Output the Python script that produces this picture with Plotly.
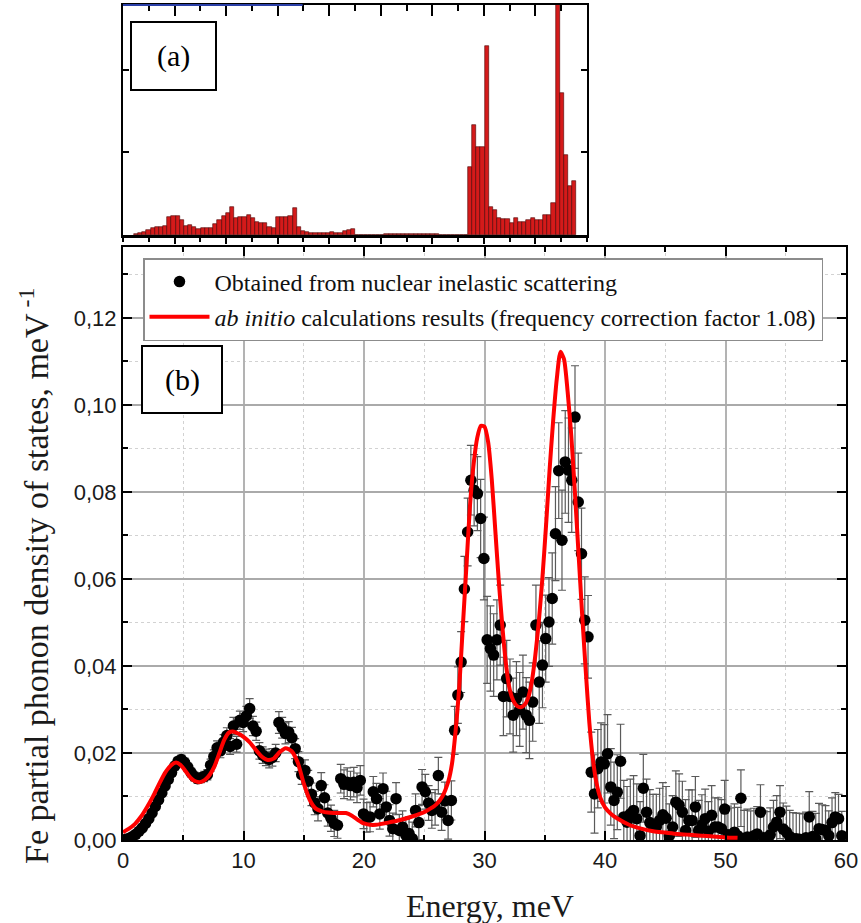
import plotly.graph_objects as go

# ---------------- data ----------------
# main panel (b): nuclear inelastic scattering points (meV, meV^-1)
nis_energy = [round(0.25 + 0.27 * k, 2) for k in range(221)]
nis_dos = [
    0.0002, 0.0004, 0.0008, 0.0013, 0.0020, 0.0028, 0.0038, 0.0049, 0.0062, 0.0077,
    0.0092, 0.0108, 0.0124, 0.0139, 0.0155, 0.0170, 0.0181, 0.0185, 0.0178, 0.0167,
    0.0155, 0.0146, 0.0141, 0.0143, 0.0146, 0.0150, 0.0172, 0.0192, 0.0212, 0.0205,
    0.0225, 0.0240, 0.0215, 0.0262, 0.0220, 0.0275, 0.0270, 0.0285, 0.0302, 0.0262,
    0.0250, 0.0205, 0.0195, 0.0190, 0.0185, 0.0190, 0.0200, 0.0270, 0.0258, 0.0245,
    0.0248, 0.0235, 0.0210, 0.0180, 0.0150, 0.0160, 0.0135, 0.0105, 0.0085, 0.0072,
    0.0125, 0.0097, 0.0062, 0.0050, 0.0038, 0.0034, 0.0141, 0.0128, 0.0133, 0.0125,
    0.0133, 0.0120, 0.0137, 0.0060, 0.0052, 0.0053, 0.0111, 0.0095, 0.0060, 0.0118,
    0.0076, 0.0045, 0.0026, 0.0095, 0.0022, 0.0030, 0.0011, 0.0015, 0.0003, 0.0068,
    0.0040, 0.0122, 0.0111, 0.0085, 0.0068, 0.0075, 0.0148, 0.0064, 0.0090, 0.0045,
    0.0091, 0.0252, 0.0333, 0.0409, 0.0577, 0.0708, 0.0827, 0.0804, 0.0796, 0.0739,
    0.0647, 0.0460, 0.0440, 0.0425, 0.0460, 0.0494, 0.0330, 0.0371, 0.0330, 0.0287,
    0.0325, 0.0300, 0.0340, 0.0287, 0.0275, 0.0317, 0.0494, 0.0363, 0.0402, 0.0463,
    0.0501, 0.0555, 0.0704, 0.0849, 0.0689, 0.0869, 0.0850, 0.0827, 0.0972, 0.0777,
    0.0658, 0.0505, 0.0467, 0.0156, 0.0106, 0.0164, 0.0179, 0.0175, 0.0198, 0.0122,
    0.0091, 0.0110, 0.0181, 0.0053, 0.0041, 0.0060, 0.0068, 0.0049, 0.0010, 0.0119,
    0.0064, 0.0040, 0.0030, 0.0030, 0.0045, 0.0058, 0.0050, 0.0010, 0.0030, 0.0087,
    0.0080, 0.0064, 0.0022, 0.0045, 0.0045, 0.0076, 0.0022, 0.0035, 0.0049, 0.0020,
    0.0057, 0.0030, 0.0030, 0.0026, 0.0071, 0.0012, 0.0008, 0.0018, 0.0010, 0.0096,
    0.0004, 0.0007, 0.0003, 0.0010, 0.0014, 0.0064, 0.0005, 0.0003, 0.0012, 0.0030,
    0.0041, 0.0064, 0.0025, 0.0018, 0.0008, 0.0003, 0.0003, 0.0002, 0.0001, 0.0005,
    0.0053, 0.0008, 0.0003, 0.0026, 0.0024, 0.0022, 0.0010, 0.0040, 0.0053, 0.0049, 0.0010,
]
nis_err = [
    0.0004, 0.0004, 0.0004, 0.0005, 0.0005, 0.0005, 0.0006, 0.0006, 0.0006, 0.0007,
    0.0007, 0.0007, 0.0008, 0.0008, 0.0008, 0.0009, 0.0009, 0.0010, 0.0010, 0.0010,
    0.0010, 0.0010, 0.0011, 0.0011, 0.0012, 0.0012, 0.0014, 0.0015, 0.0016, 0.0016,
    0.0017, 0.0018, 0.0018, 0.0020, 0.0018, 0.0021, 0.0021, 0.0022, 0.0023, 0.0022,
    0.0021, 0.0019, 0.0019, 0.0019, 0.0019, 0.0020, 0.0020, 0.0025, 0.0024, 0.0024,
    0.0024, 0.0024, 0.0023, 0.0023, 0.0022, 0.0024, 0.0025, 0.0026, 0.0027, 0.0028,
    0.0030, 0.0030, 0.0030, 0.0030, 0.0030, 0.0030, 0.0033, 0.0033, 0.0033, 0.0033,
    0.0034, 0.0034, 0.0034, 0.0034, 0.0034, 0.0034, 0.0035, 0.0035, 0.0035, 0.0036,
    0.0036, 0.0036, 0.0036, 0.0037, 0.0037, 0.0037, 0.0037, 0.0038, 0.0038, 0.0038,
    0.0039, 0.0040, 0.0040, 0.0040, 0.0041, 0.0041, 0.0042, 0.0042, 0.0043, 0.0043,
    0.0045, 0.0055, 0.0065, 0.0070, 0.0075, 0.0078, 0.0080, 0.0082, 0.0085, 0.0090,
    0.0095, 0.0100, 0.0098, 0.0095, 0.0092, 0.0092, 0.0090, 0.0088, 0.0086, 0.0085,
    0.0085, 0.0085, 0.0085, 0.0086, 0.0088, 0.0090, 0.0092, 0.0095, 0.0098, 0.0100,
    0.0102, 0.0105, 0.0108, 0.0110, 0.0115, 0.0118, 0.0120, 0.0120, 0.0118, 0.0112,
    0.0105, 0.0100, 0.0095, 0.0092, 0.0090, 0.0090, 0.0090, 0.0090, 0.0090, 0.0088,
    0.0088, 0.0086, 0.0085, 0.0084, 0.0082, 0.0080, 0.0080, 0.0080, 0.0078, 0.0078,
    0.0076, 0.0076, 0.0075, 0.0075, 0.0074, 0.0074, 0.0073, 0.0073, 0.0072, 0.0072,
    0.0072, 0.0071, 0.0071, 0.0070, 0.0070, 0.0070, 0.0069, 0.0069, 0.0068, 0.0068,
    0.0068, 0.0067, 0.0067, 0.0067, 0.0066, 0.0066, 0.0066, 0.0065, 0.0065, 0.0065,
    0.0064, 0.0064, 0.0064, 0.0063, 0.0063, 0.0063, 0.0062, 0.0062, 0.0062, 0.0061,
    0.0061, 0.0061, 0.0060, 0.0060, 0.0060, 0.0060, 0.0059, 0.0059, 0.0059, 0.0059,
    0.0058, 0.0058, 0.0058, 0.0058, 0.0057, 0.0057, 0.0057, 0.0057, 0.0056, 0.0056, 0.0056,
]

# ab initio curve (frequency correction factor 1.08)
calc_energy = [
    0, 0.5, 1, 1.5, 2, 2.5, 3, 3.5, 4, 4.4, 4.8, 5.2, 5.6, 6.0, 6.4, 6.8, 7.2, 7.6,
    8.0, 8.4, 8.8, 9.2, 9.6, 10.0, 10.5, 11.0, 11.5, 12.0, 12.5, 13.0, 13.5, 14.0,
    14.5, 15.0, 15.5, 16.0, 16.5, 17.0, 17.5, 18.0, 18.5, 19.0, 19.5, 20.0, 20.5,
    21.0, 22.0, 23.0, 24.0, 25.0, 25.5, 26.0, 26.5, 27.0, 27.3, 27.6, 27.9, 28.2,
    28.5, 28.8, 29.1, 29.4, 29.7, 30.0, 30.3, 30.6, 30.9, 31.2, 31.5, 31.8, 32.1,
    32.4, 32.7, 33.0, 33.3, 33.6, 33.9, 34.2, 34.5, 34.8, 35.1, 35.4, 35.7, 36.0,
    36.3, 36.6, 36.9, 37.2, 37.5, 37.8, 38.1, 38.4, 38.7, 39.0, 39.3, 39.6, 40.0,
    40.5, 41.0, 42.0, 43.0, 44.0, 45.0, 46.0, 47.0, 48.0, 49.0, 50.0, 51.0,
]
calc_dos = [
    0.0018, 0.0026, 0.0037, 0.0054, 0.0076, 0.0101, 0.0129, 0.0155, 0.0172, 0.0178,
    0.0172, 0.0158, 0.0143, 0.0135, 0.0133, 0.0138, 0.0150, 0.0170,
    0.0200, 0.0230, 0.0247, 0.0249, 0.0244, 0.0237, 0.0225, 0.0208, 0.0192, 0.0184,
    0.0187, 0.0202, 0.0211, 0.0204,
    0.0178, 0.0130, 0.0092, 0.0072, 0.0066, 0.0063, 0.0062, 0.0062, 0.0062, 0.0056,
    0.0046, 0.0038, 0.0035,
    0.0035, 0.0040, 0.0046, 0.0054, 0.0064, 0.0072, 0.0082, 0.0100, 0.0135, 0.0175,
    0.0250, 0.0350, 0.0490,
    0.0630, 0.0770, 0.0865, 0.0925, 0.0952, 0.0950, 0.0915, 0.0830, 0.0710, 0.0590,
    0.0485, 0.0400, 0.0345,
    0.0320, 0.0308, 0.0305, 0.0310, 0.0325, 0.0360, 0.0420, 0.0500, 0.0600, 0.0720,
    0.0850, 0.0965, 0.1060,
    0.1122, 0.1105, 0.1030, 0.0930, 0.0800, 0.0660, 0.0520, 0.0390, 0.0270, 0.0185,
    0.0130, 0.0098, 0.0075,
    0.0060, 0.0050, 0.0035, 0.0026, 0.0020, 0.0017, 0.0014, 0.0012, 0.0010, 0.0008,
    0.0006, 0.0005,
]

# inset (a): histogram of the calculated density of states (bins in THz, arbitrary units)
bin_width = 0.081
bin_centers = [round(0.21 + bin_width * (i + 0.5), 4) for i in range(106)]
bin_heights = [
    0.008, 0.02, 0.04, 0.06, 0.08, 0.093, 0.093, 0.109,
    0.214, 0.23, 0.23, 0.181, 0.109, 0.117, 0.093, 0.069,
    0.089, 0.089, 0.08, 0.133, 0.181, 0.23, 0.27, 0.343,
    0.202, 0.214, 0.214, 0.242, 0.202, 0.161, 0.149, 0.149,
    0.101, 0.08, 0.222, 0.222, 0.222, 0.23, 0.323, 0.101,
    0.052, 0.032, 0.028, 0.028, 0.028, 0.028, 0.028, 0.032,
    0.028, 0.028, 0.048, 0.06, 0.077, 0, 0, 0,
    0, 0, 0, 0, 0.012, 0.008, 0.008, 0.012,
    0.008, 0.016, 0.008, 0.012, 0.008, 0.012, 0.012, 0.012,
    0.012, 0, 0, 0, 0, 0, 0, 0,
    0.827, 1.331, 1.069, 1.069, 2.29, 0.343, 0.302, 0.21,
    0.19, 0.19, 0.141, 0.21, 0.161, 0.161, 0.181, 0.202,
    0.181, 0.181, 0.242, 0.242, 0.383, 3.2, 1.72, 0.968,
    0.597, 0.657,
]

x_ticks = [0, 10, 20, 30, 40, 50, 60]
y_ticks = [0.00, 0.02, 0.04, 0.06, 0.08, 0.10, 0.12]
y_ticktext = ["0,00", "0,02", "0,04", "0,06", "0,08", "0,10", "0,12"]

# ---------------- layout helpers ----------------
W, H = 861, 923
ML, MR, MT, MB = 123, 15, 4, 83
PW = W - ML - MR
PH = H - MT - MB


def px(x):
    return (x - ML) / PW


def py(y):
    return (H - MB - y) / PH


SERIF = "Liberation Serif"
SANS = "Liberation Sans"

fig = go.Figure()

fig.add_trace(go.Bar(
    x=bin_centers, y=bin_heights, width=bin_width,
    marker=dict(color="#d41a1a", line=dict(color="#4a0000", width=0.6)),
    xaxis="x2", yaxis="y2", showlegend=False, hoverinfo="skip",
))
fig.add_trace(go.Scatter(x=[], y=[], xaxis="x3", yaxis="y2", showlegend=False))

fig.add_trace(go.Scatter(
    x=nis_energy, y=nis_dos, mode="markers",
    name="Obtained from nuclear inelastic scattering",
    marker=dict(color="black", size=11.5),
    error_y=dict(type="data", array=nis_err, visible=True, color="#5a5a5a",
                 thickness=1.2, width=4),
    legendgroup="a",
))
fig.add_trace(go.Scatter(
    x=calc_energy, y=calc_dos, mode="lines",
    name="<i>ab initio</i> calculations results (frequency correction factor 1.08)",
    line=dict(color="#ff0000", width=4, shape="spline", smoothing=0.6),
    legendgroup="b",
))

axis_common = dict(showline=True, linecolor="black", linewidth=2, zeroline=False)

fig.update_layout(
    width=W, height=H,
    margin=dict(l=ML, r=MR, t=MT, b=MB),
    paper_bgcolor="white", plot_bgcolor="white",
    bargap=0,
    xaxis=dict(
        domain=[0, 1], range=[0, 60], tickvals=x_ticks,
        ticks="inside", ticklen=9, tickwidth=2, tickcolor="black",
        mirror="ticks", showgrid=True, gridcolor="#b3b3b3", gridwidth=1.5,
        minor=dict(tickvals=[5, 15, 25, 35, 45, 55], ticks="inside", ticklen=5,
                   tickwidth=1.5, tickcolor="black", showgrid=True,
                   gridcolor="#d2d2d2", griddash="dot", gridwidth=1),
        tickfont=dict(family=SANS, size=22, color="#1a1a1a"),
        anchor="y", **axis_common,
    ),
    yaxis=dict(
        domain=[0, py(247)], range=[0, 0.1363], tickvals=y_ticks, ticktext=y_ticktext,
        ticks="inside", ticklen=9, tickwidth=2, tickcolor="black",
        mirror="ticks", showgrid=True, gridcolor="#aaaaaa", gridwidth=2,
        minor=dict(tickvals=[0.01, 0.03, 0.05, 0.07, 0.09, 0.11, 0.13], ticks="inside",
                   ticklen=5, tickwidth=1.5, tickcolor="black", showgrid=True,
                   gridcolor="#d2d2d2", griddash="dot", gridwidth=1),
        tickfont=dict(family=SANS, size=22, color="#1a1a1a"),
        anchor="x", **axis_common,
    ),
    xaxis2=dict(
        domain=[0, px(587)], range=[0, 9], tickvals=[1, 2, 3, 4, 5, 6, 7, 8],
        ticks="outside", ticklen=6, tickwidth=1.5, tickcolor="black",
        minor=dict(dtick=0.5, ticks="outside", ticklen=4, tickcolor="black"),
        showticklabels=False, showgrid=False, anchor="y2",
        showline=True, linecolor="black", linewidth=2.5, zeroline=False,
    ),
    xaxis3=dict(
        overlaying="x2", side="top", range=[0, 9], tickvals=[1, 2, 3, 4, 5, 6, 7, 8],
        ticks="inside", ticklen=11, tickwidth=1.5, tickcolor="black",
        minor=dict(dtick=0.5, ticks="inside", ticklen=6, tickcolor="black"),
        showticklabels=False, showgrid=False, anchor="y2",
        showline=True, linecolor="black", linewidth=1.5, zeroline=False,
    ),
    yaxis2=dict(
        domain=[py(235), py(5)], range=[0, 2.78], tickvals=[1, 2],
        ticks="inside", ticklen=6, tickwidth=1.5, tickcolor="black", mirror="ticks",
        showticklabels=False, showgrid=False, anchor="x2",
        showline=True, linecolor="black", linewidth=1.5, zeroline=False,
    ),
    legend=dict(
        x=px(143), y=py(258), xanchor="left", yanchor="top",
        bgcolor="white", bordercolor="#8c8c8c", borderwidth=1.5,
        font=dict(family=SERIF, size=24, color="#111111"),
        itemwidth=60, tracegroupgap=1, traceorder="grouped",
    ),
    shapes=[
        dict(type="line", xref="x2 domain", yref="y2 domain",
             x0=0, x1=(302 - 122) / (587 - 122), y0=1, y1=1,
             line=dict(color="#2a3fa8", width=2)),
        dict(type="rect", xref="paper", yref="paper",
             x0=px(131), x1=px(216), y0=py(90), y1=py(22),
             line=dict(color="black", width=2), fillcolor="white"),
        dict(type="rect", xref="paper", yref="paper",
             x0=px(142), x1=px(222), y0=py(413), y1=py(346),
             line=dict(color="black", width=2), fillcolor="white"),
    ],
    annotations=[
        dict(text="(a)", xref="paper", yref="paper", x=px(173.5), y=py(56),
             xanchor="center", yanchor="middle",
             showarrow=False, font=dict(family=SERIF, size=30, color="black")),
        dict(text="(b)", xref="paper", yref="paper", x=px(182), y=py(380),
             xanchor="center", yanchor="middle",
             showarrow=False, font=dict(family=SERIF, size=30, color="black")),
        dict(text="Energy, meV", xref="paper", yref="paper", x=px(490), y=py(906),
             xanchor="center", yanchor="middle",
             showarrow=False, font=dict(family=SERIF, size=32, color="#1a1a1a")),
        dict(text="Fe partial phonon density of states, meV<sup> -1</sup>",
             xref="paper", yref="paper", x=px(34), y=py(576), textangle=-90,
             xanchor="center", yanchor="middle",
             showarrow=False, font=dict(family=SERIF, size=34, color="#1a1a1a")),
    ],
)

fig.write_html("out.html", config={"displayModeBar": False},
               post_script="document.body.style.margin='0';")
